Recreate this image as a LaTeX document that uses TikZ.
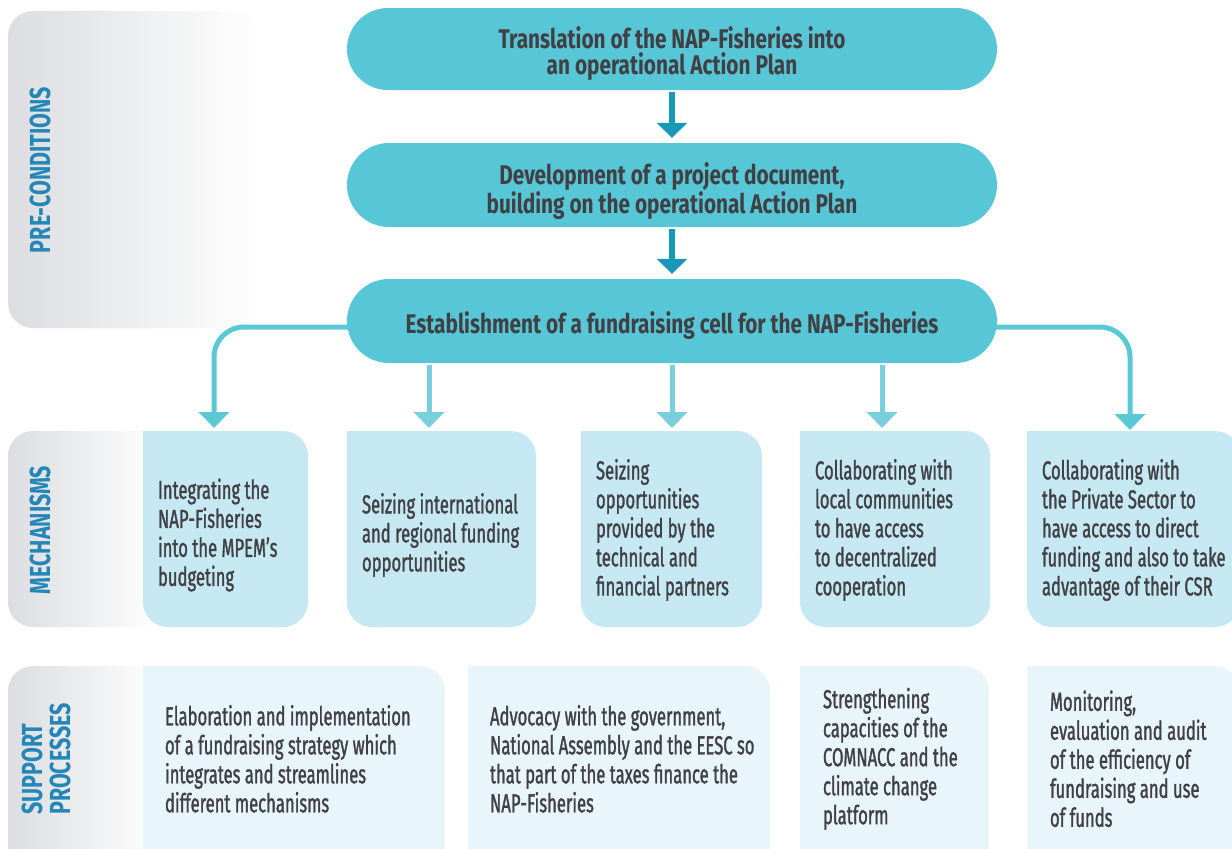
\documentclass[tikz,border=0pt]{standalone}
\usepackage{fontspec}
\setmainfont{Fira Sans}
\newfontfamily\bodyfont{Fira Sans}[FakeStretch=0.64,FakeBold=1.2]
\newfontfamily\headfont{Fira Sans}[FakeStretch=0.77]
\newfontfamily\labfont{Fira Sans}[FakeStretch=0.74]
\usetikzlibrary{arrows.meta,calc}
\definecolor{pillcol}{HTML}{57C6D6}
\definecolor{darkarrow}{HTML}{1599B6}
\definecolor{branchcol}{HTML}{5BC8D6}
\definecolor{straightcol}{HTML}{7ACFDD}
\definecolor{mechcol}{HTML}{C5E8F2}
\definecolor{suppcol}{HTML}{E8F5FA}
\definecolor{txtcol}{HTML}{404045}
\definecolor{labcol}{HTML}{2386B6}
\definecolor{bandcol}{HTML}{DCDDE0}
\begin{document}
\begin{tikzpicture}[x=1pt,y=-1pt,
  pill/.style={fill=pillcol, minimum width=650pt, inner sep=0pt},
  ptext/.style={text=txtcol, align=center, inner sep=0pt,
    font=\headfont\bfseries\fontsize{27}{26}\selectfont},
  mech/.style={fill=mechcol, rounded corners=25pt, minimum height=196pt, inner sep=0pt},
  supp/.style={fill=suppcol, rounded corners=25pt, minimum height=214pt, inner sep=0pt},
  btext/.style={text=txtcol, align=left, inner sep=0pt, anchor=west,
    font=\bodyfont\fontsize{26}{29}\selectfont},
  lab/.style={text=labcol, inner sep=0pt, rotate=90,
    font=\labfont\bfseries\fontsize{29}{28}\selectfont},
  darrow/.style={draw=darkarrow, line width=6pt, -{Triangle[width=30pt,length=15pt]}},
  branch/.style={draw=branchcol, line width=5pt, rounded corners=30pt, -{Triangle[width=30pt,length=16pt]}},
  sarrow/.style={draw=straightcol, line width=5pt, -{Triangle[width=30pt,length=16pt]}}
]
\clip (0,0) rectangle (1232,849);
\fill[white] (0,0) rectangle (1232,849);
% side bands
\shade[left color=bandcol, right color=white, rounded corners=25pt] (8,11) rectangle (260,328);
\shade[left color=bandcol, right color=white, rounded corners=25pt] (8,431) rectangle (160,627);
\shade[left color=bandcol, right color=white, rounded corners=25pt] (8,666) rectangle (160,880);
\node[lab] (lpre) at (40,170) {PRE-CONDITIONS};
\node[lab] (lmech) at (40,530) {MECHANISMS};
\node[lab, align=left, anchor=west] (lsup) at (46,815) {SUPPORT\\PROCESSES};
% arrow targets
\coordinate (t1) at (214,428);
\coordinate (t2) at (429,428);
\coordinate (t3) at (672,428);
\coordinate (t4) at (882,428);
\coordinate (t5) at (1130,430);
% pills
\node[pill, minimum height=82pt, rounded corners=41pt] (p1) at (672,49) {};
\node[ptext] (p1t) at ($(p1.center)+(0,5)$) {Translation of the NAP-Fisheries into\\an operational Action Plan};
\node[pill, minimum height=84pt, rounded corners=42pt] (p2) at (672,185) {};
\node[ptext] (p2t) at ($(p2.center)+(0,6)$) {Development of a project document,\\building on the operational Action Plan};
% branches (behind pill 3)
\draw[branch] ($(p2.west)+(20,142)$) -| (t1);
\draw[branch] ($(p2.east)+(-20,142)$) -| (t5);
\node[pill, minimum height=84pt, rounded corners=42pt] (p3) at (672,321) {};
\node[ptext] (p3t) at ($(p3.center)+(0,5)$) {Establishment of a fundraising cell for the NAP-Fisheries};
\draw[darrow, shorten <=2pt, shorten >=5pt] (p1.south) -- (p2.north);
\draw[darrow, shorten <=2pt, shorten >=5pt] (p2.south) -- (p3.north);
\draw[sarrow, shorten <=2pt] (p3.south -| t2) -- (t2);
\draw[sarrow, shorten <=2pt] (p3.south -| t3) -- (t3);
\draw[sarrow, shorten <=2pt] (p3.south -| t4) -- (t4);
% mechanisms
\node[mech, minimum width=165pt] (m1) at (225.5,529) {};
\node[mech, minimum width=189pt] (m2) at (441.5,529) {};
\node[mech, minimum width=181pt] (m3) at (671.5,529) {};
\node[mech, minimum width=190pt] (m4) at (895,529) {};
\node[mech, minimum width=213pt] (m5) at (1133.5,529) {};
\foreach \m in {m1,m2,m3,m4,m5} {\fill[mechcol] (\m.north west) rectangle ++(30,30);}
\node[btext] (m1t) at ($(m1.west)+(15,6)$) {Integrating the\\NAP-Fisheries\\into the MPEM’s\\budgeting};
\node[btext] (m2t) at ($(m2.west)+(15,6)$) {Seizing international\\and regional funding\\opportunities};
\node[btext] (m3t) at ($(m3.west)+(15,1)$) {Seizing\\opportunities\\provided by the\\technical and\\financial partners};
\node[btext] (m4t) at ($(m4.west)+(15,1)$) {Collaborating with\\local communities\\to have access\\to decentralized\\cooperation};
\node[btext] (m5t) at ($(m5.west)+(15,1)$) {Collaborating with\\the Private Sector to\\have access to direct\\funding and also to take\\advantage of their CSR};
% support processes
\node[supp, minimum width=302pt] (s1) at (294,773) {};
\node[supp, minimum width=302pt] (s2) at (619,773) {};
\node[supp, minimum width=189pt] (s3) at (894.5,773) {};
\node[supp, minimum width=213pt] (s4) at (1133.5,773) {};
\foreach \s in {s1,s2,s3,s4} {\fill[suppcol] (\s.north west) rectangle ++(30,30);}
\node[btext] (s1t) at ($(s1.north west)+(22,93)$) {Elaboration and implementation\\of a fundraising strategy which\\integrates and streamlines\\different mechanisms};
\node[btext] (s2t) at ($(s2.north west)+(22,93)$) {Advocacy with the government,\\National Assembly and the EESC so\\that part of the taxes finance the\\NAP-Fisheries};
\node[btext] (s3t) at ($(s3.north west)+(23,93)$) {Strengthening\\capacities of the\\COMNACC and the\\climate change\\platform};
\node[btext] (s4t) at ($(s4.north west)+(23,93)$) {Monitoring,\\evaluation and audit\\of the efficiency of\\fundraising and use\\of funds};
\end{tikzpicture}
\end{document}
